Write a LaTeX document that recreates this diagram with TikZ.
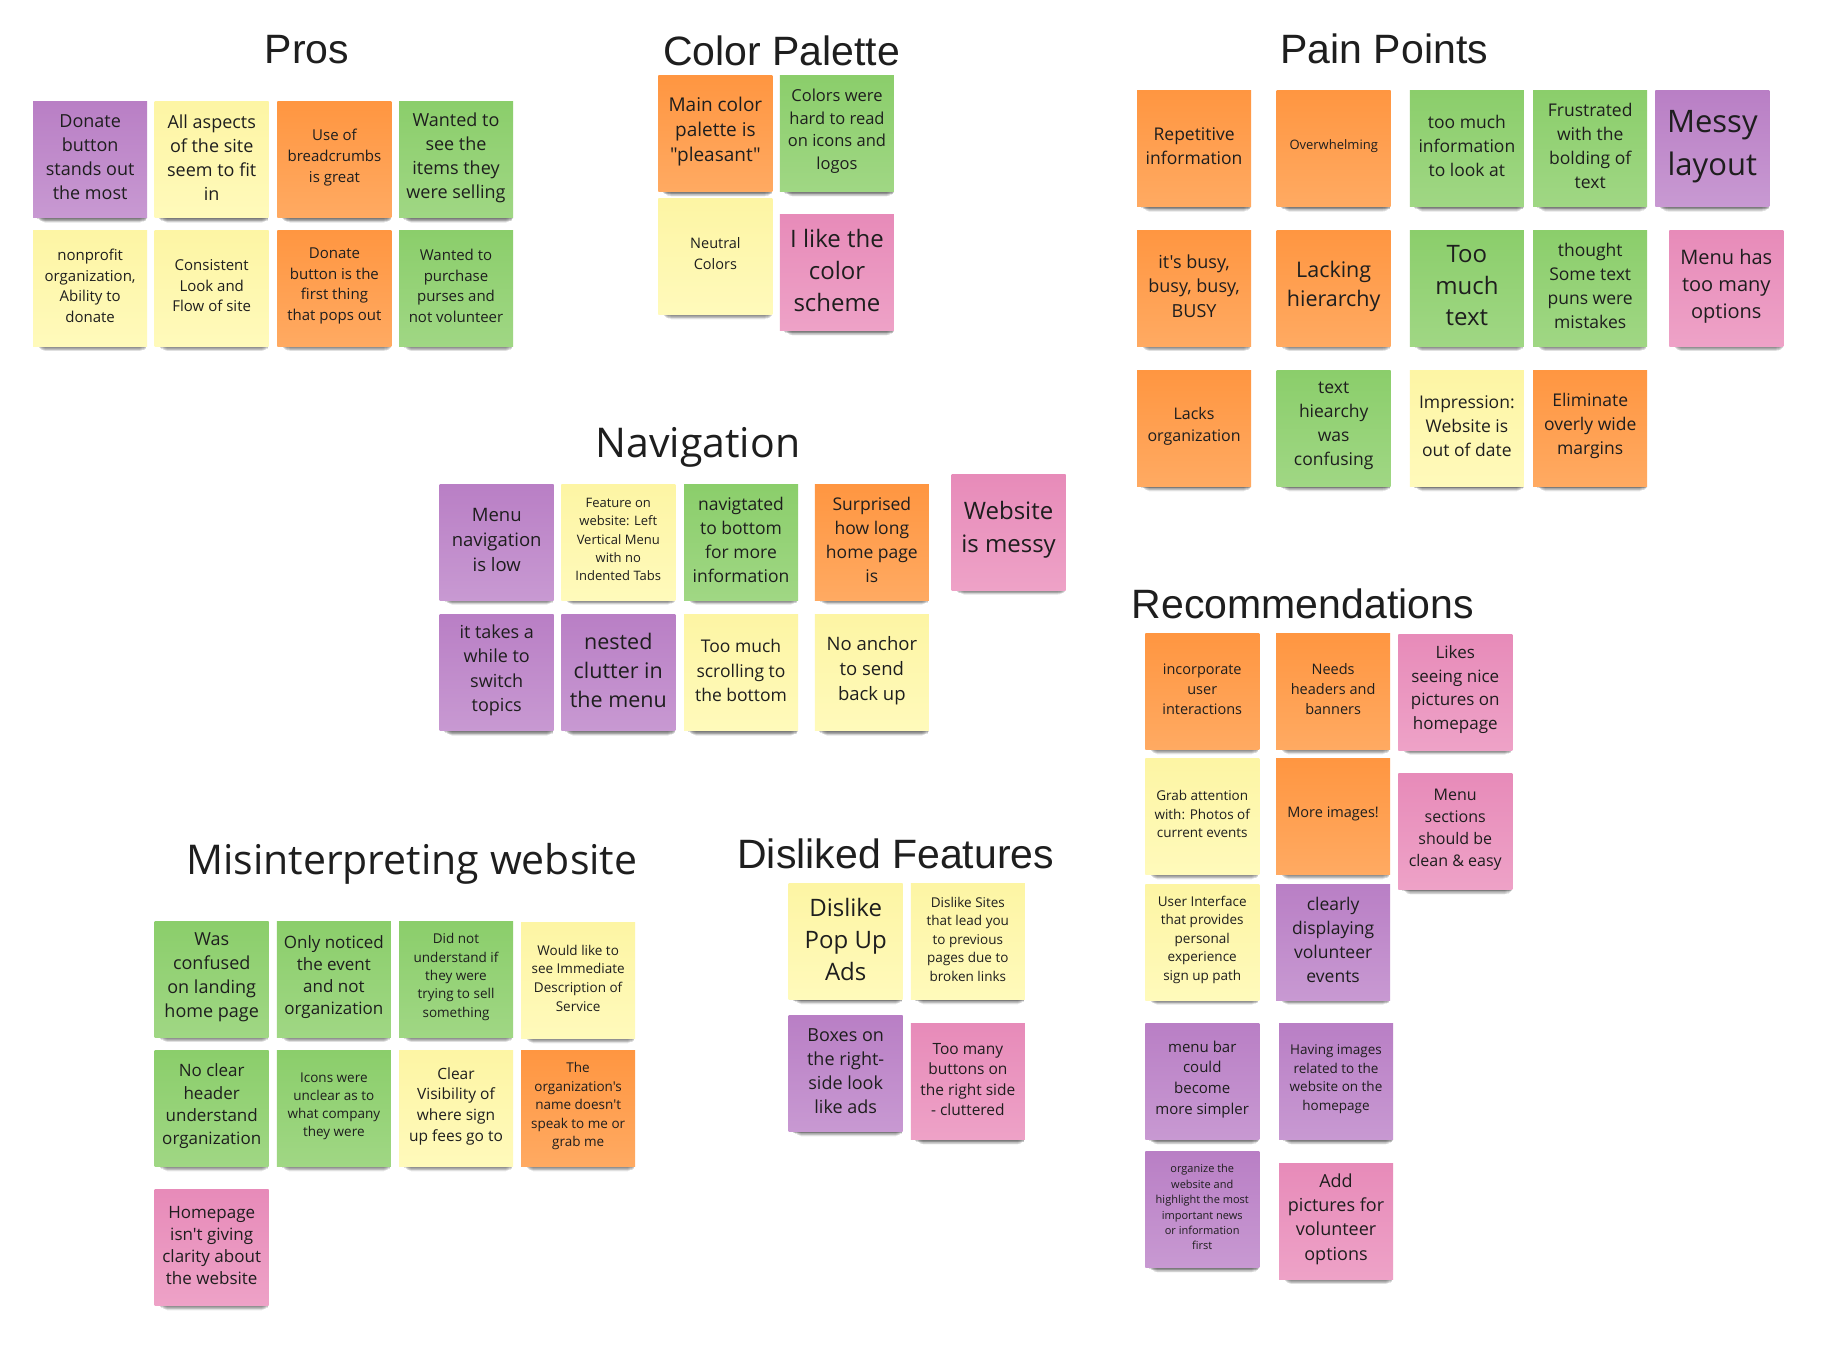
\documentclass[tikz,border=0pt]{standalone}
\usepackage{fontspec}
\usetikzlibrary{shadows}
\newfontfamily\notefont{Open Sans}[Ligatures=TeXOff]
\newfontfamily\headfont{Liberation Sans}
\newcommand\fsz[2]{\fontsize{#1pt}{#2pt}\selectfont}

\definecolor{ink}{HTML}{1E1E1E}
\definecolor{orT}{HTML}{FF9641}
\definecolor{orB}{HTML}{FFAA62}
\definecolor{grT}{HTML}{8BCE6B}
\definecolor{grB}{HTML}{A0D784}
\definecolor{yeT}{HTML}{FDF5A4}
\definecolor{yeB}{HTML}{FFFABB}
\definecolor{puT}{HTML}{B97FC5}
\definecolor{puB}{HTML}{C899D2}
\definecolor{piT}{HTML}{E78BB9}
\definecolor{piB}{HTML}{EEA2C7}

% soft shadow under a note: stacked, shrinking, translucent copies
\tikzset{
  softshadow/.style={
    general shadow={shadow scale=.960, shadow xshift=2pt, shadow yshift=-3.3pt,  fill=black, opacity=.14},
    general shadow={shadow scale=.945, shadow xshift=2.5pt, shadow yshift=-5.2pt,  fill=black, opacity=.13},
    general shadow={shadow scale=.930, shadow xshift=3pt, shadow yshift=-7.1pt,  fill=black, opacity=.11},
    general shadow={shadow scale=.910, shadow xshift=3pt, shadow yshift=-9.2pt,  fill=black, opacity=.09},
    general shadow={shadow scale=.890, shadow xshift=3pt, shadow yshift=-11.4pt, fill=black, opacity=.07},
    general shadow={shadow scale=.870, shadow xshift=3pt, shadow yshift=-13.5pt, fill=black, opacity=.05},
    general shadow={shadow scale=.850, shadow xshift=3pt, shadow yshift=-15.7pt, fill=black, opacity=.04},
    general shadow={shadow scale=.830, shadow xshift=3pt, shadow yshift=-17.9pt, fill=black, opacity=.03}},
  sticky/.style={rectangle, inner sep=0pt, minimum width=114pt, minimum height=116pt, softshadow},
  notetext/.style={inner sep=0pt, align=center, text=ink},
  orangenote/.style={sticky, top color=orT, bottom color=orB},
  greennote/.style={sticky, top color=grT, bottom color=grB},
  yellownote/.style={sticky, top color=yeT, bottom color=yeB},
  purplenote/.style={sticky, top color=puT, bottom color=puB},
  pinknote/.style={sticky, top color=piT, bottom color=piB},
  heading/.style={anchor=base, inner sep=0pt, text=ink, font=\headfont\fsz{41}{48}},
  heading2/.style={anchor=base, inner sep=0pt, text=ink, font=\notefont\fsz{41}{48}},
  fs/.style 2 args={font={\notefont\fsz{#1}{#2}}}
}

% \stickynote{colour style}{name}{centre}{font size}{baselineskip}{text}
\newcommand\stickynote[6]{%
  \node[#1] (#2) at (#3) {};
  \node[notetext, fs={#4}{#5}] (#2txt) at ([yshift=2.5pt]#2.center) {#6};}

\begin{document}
\begin{tikzpicture}[x=1.16327pt, y=-1.16327pt]
\fill[white] (0,0) rectangle (1568,1156);
\useasboundingbox (0,0) rectangle (1568,1156);

% ---------------- Pros ----------------
\node[heading] (prosT) at (264,55) {Pros};
\stickynote{purplenote}{pros1}{77.5,137.5}{18}{24}{Donate\\button\\stands out\\the most}
\stickynote{yellownote}{pros2}{182,137.5}{18}{24}{All aspects\\of the site\\seem to fit\\in}
\stickynote{orangenote}{pros3}{287.5,137.5}{15}{20.8}{Use of\\breadcrumbs\\is great}
\stickynote{greennote}{pros4}{392,137.5}{18}{24}{Wanted to\\see the\\items they\\were selling}
\stickynote{yellownote}{pros5}{77.5,248}{15}{20.5}{nonprofit\\organization,\\Ability to\\donate}
\stickynote{yellownote}{pros6}{182,248}{15}{20.5}{Consistent\\Look and\\Flow of site}
\stickynote{orangenote}{pros7}{287.5,248}{15}{20.5}{Donate\\button is the\\first thing\\that pops out}
\stickynote{greennote}{pros8}{392,248}{15}{20.5}{Wanted to\\purchase\\purses and\\not volunteer}

% ---------------- Color Palette ----------------
\node[heading] (colT) at (672,56) {Color Palette};
\stickynote{orangenote}{col1}{615,115}{19}{25}{Main color\\palette is\\"pleasant"}
\stickynote{greennote}{col2}{719.5,115}{16.5}{22.5}{Colors were\\hard to read\\on icons and\\logos}
\stickynote{yellownote}{col3}{615,220.5}{14.5}{21}{Neutral\\Colors}
\stickynote{pinknote}{col4}{719.5,234.5}{24}{32}{I like the\\color\\scheme}

% ---------------- Pain Points ----------------
\node[heading] (painT) at (1190,55) {Pain Points};
\stickynote{orangenote}{pain1}{1026.5,128}{17.5}{24}{Repetitive\\information}
\stickynote{orangenote}{pain2}{1146.5,128}{13}{18}{Overwhelming}
\stickynote{greennote}{pain3}{1261,128}{17.5}{24}{too much\\information\\to look at}
\stickynote{greennote}{pain4}{1367,128}{17.5}{24}{Frustrated\\with the\\bolding of\\text}
\stickynote{purplenote}{pain5}{1472,128}{31}{43}{Messy\\layout}
\stickynote{orangenote}{pain6}{1026.5,248}{18}{24.5}{it's busy,\\busy, busy,\\BUSY}
\stickynote{orangenote}{pain7}{1146.5,248}{21.5}{29}{Lacking\\hierarchy}
\stickynote{greennote}{pain8}{1261,248}{24}{31.5}{Too\\much\\text}
\stickynote{greennote}{pain9}{1367,248}{17.5}{24}{thought\\Some text\\puns were\\mistakes}
\stickynote{pinknote}{pain10}{1484,248}{20}{27}{Menu has\\too many\\options}
\stickynote{orangenote}{pain11}{1026.5,368.5}{16}{22}{Lacks\\organization}
\stickynote{greennote}{pain12}{1146.5,368.5}{17.5}{24}{text\\hiearchy\\was\\confusing}
\stickynote{yellownote}{pain13}{1261,368.5}{17.5}{24}{Impression:\\Website is\\out of date}
\stickynote{orangenote}{pain14}{1367,368.5}{17.5}{24}{Eliminate\\overly wide\\margins}

% ---------------- Navigation ----------------
\node[heading2] (navT) at (600,393) {Navigation};
\stickynote{purplenote}{nav1}{427,466}{18.5}{25}{Menu\\navigation\\is low}
\stickynote{yellownote}{nav2}{531.5,466}{13}{18.3}{Feature on\\website: Left\\Vertical Menu\\with no\\Indented Tabs}
\stickynote{greennote}{nav3}{637,466}{17.5}{24}{navigtated\\to bottom\\for more\\information}
\stickynote{orangenote}{nav4}{749.5,466}{17.5}{24}{Surprised\\how long\\home page\\is}
\stickynote{pinknote}{nav5}{867,457.5}{24}{32.5}{Website\\is messy}
\stickynote{purplenote}{nav6}{427,578.5}{18}{24.4}{it takes a\\while to\\switch\\topics}
\stickynote{purplenote}{nav7}{531.5,578.5}{21.5}{29}{nested\\clutter in\\the menu}
\stickynote{yellownote}{nav8}{637,578.5}{17.5}{24.4}{Too much\\scrolling to\\the bottom}
\stickynote{yellownote}{nav9}{749.5,578.5}{18.5}{25}{No anchor\\to send\\back up}

% ---------------- Recommendations ----------------
\node[heading] (recT) at (1120,532) {Recommendations};
\stickynote{orangenote}{rec1}{1033.5,594.5}{14.5}{19.8}{incorporate\\user\\interactions}
\stickynote{orangenote}{rec2}{1146,594.5}{14.5}{19.8}{Needs\\headers and\\banners}
\stickynote{pinknote}{rec3}{1251,595}{17}{23.6}{Likes\\seeing nice\\pictures on\\homepage}
\stickynote{yellownote}{rec4}{1033.5,702}{13.5}{18.6}{Grab attention\\with: Photos of\\current events}
\stickynote{orangenote}{rec5}{1146,702}{14.5}{19.8}{More images!}
\stickynote{pinknote}{rec6}{1251,715}{16}{22}{Menu\\sections\\should be\\clean \& easy}
\stickynote{yellownote}{rec7}{1033.5,810}{13.5}{18.6}{User Interface\\that provides\\personal\\experience\\sign up path}
\stickynote{purplenote}{rec8}{1146,810}{17.5}{24}{clearly\\displaying\\volunteer\\events}
\stickynote{purplenote}{rec9}{1033.5,930}{15}{20.6}{menu bar\\could\\become\\more simpler}
\stickynote{purplenote}{rec10}{1148.5,930}{13.5}{18.6}{Having images\\related to the\\website on the\\homepage}
\stickynote{purplenote}{rec11}{1033.5,1040}{11}{15.4}{organize the\\website and\\highlight the most\\important news\\or information\\first}
\stickynote{pinknote}{rec12}{1148.5,1050}{18}{24.4}{Add\\pictures for\\volunteer\\options}

% ---------------- Misinterpreting website ----------------
\node[heading2] (misT) at (354,752) {Misinterpreting website};
\stickynote{greennote}{mis1}{182,842}{18}{24}{Was\\confused\\on landing\\home page}
\stickynote{greennote}{mis2}{287,842}{17}{22}{Only noticed\\the event\\and not\\organization}
\stickynote{greennote}{mis3}{392,842}{13.5}{18.4}{Did not\\understand if\\they were\\trying to sell\\something}
\stickynote{yellownote}{mis4}{497,843}{13.5}{18.6}{Would like to\\see Immediate\\Description of\\Service}
\stickynote{greennote}{mis5}{182,953}{17}{22.5}{No clear\\header\\understand\\organization}
\stickynote{greennote}{mis6}{287,953}{13.5}{18.2}{Icons were\\unclear as to\\what company\\they were}
\stickynote{yellownote}{mis7}{392,953}{15.5}{20.6}{Clear\\Visibility of\\where sign\\up fees go to}
\stickynote{orangenote}{mis8}{497,953}{13.5}{18.6}{The\\organization's\\name doesn't\\speak to me or\\grab me}
\stickynote{pinknote}{mis9}{182,1072.5}{17}{22}{Homepage\\isn't giving\\clarity about\\the website}

% ---------------- Disliked Features ----------------
\node[heading] (disT) at (770,747) {Disliked Features};
\stickynote{yellownote}{dis1}{727,809.5}{24}{32}{Dislike\\Pop Up\\Ads}
\stickynote{yellownote}{dis2}{832,809.5}{13.5}{18.6}{Dislike Sites\\that lead you\\to previous\\pages due to\\broken links}
\stickynote{purplenote}{dis3}{727,923}{18}{24}{Boxes on\\the right-\\side look\\like ads}
\stickynote{pinknote}{dis4}{832,930}{15.5}{20.5}{Too many\\buttons on\\the right side\\- cluttered}
\end{tikzpicture}
\end{document}
